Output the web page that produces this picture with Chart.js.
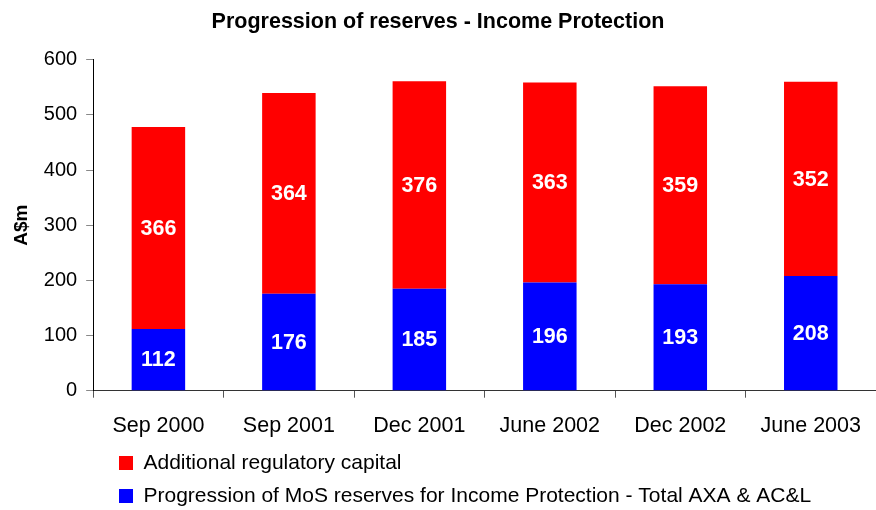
<!DOCTYPE html>
<html>
<head>
<meta charset="utf-8">
<title>Progression of reserves - Income Protection</title>
<script src="https://cdn.jsdelivr.net/npm/chart.js@4.4.1/dist/chart.umd.min.js"></script>
<style>
  html, body { margin: 0; padding: 0; background: #fff; }
  #reserves { display: block; }
</style>
</head>
<body>
<canvas id="reserves" width="876" height="510"></canvas>
<script>
const periods = ['Sep 2000', 'Sep 2001', 'Dec 2001', 'June 2002', 'Dec 2002', 'June 2003'];
const mosReserves = [112, 176, 185, 196, 193, 208];
const regulatoryCapital = [366, 364, 376, 363, 359, 352];

const FONT = '"Liberation Sans", Arial, sans-serif';

// white value labels centred in each stacked segment
const barValueLabels = {
  id: 'barValueLabels',
  afterDatasetsDraw(chart) {
    const { ctx } = chart;
    ctx.save();
    ctx.font = 'bold 21.5px ' + FONT;
    ctx.fillStyle = '#fff';
    ctx.textAlign = 'center';
    ctx.textBaseline = 'middle';
    chart.data.datasets.forEach((ds, i) => {
      chart.getDatasetMeta(i).data.forEach((bar, j) => {
        ctx.fillText(ds.data[j], bar.x, (bar.y + bar.base) / 2 + 1);
      });
    });
    ctx.restore();
  },
};

// move the legend in from the left edge and up under the axis labels
const legendIndent = {
  id: 'legendIndent',
  afterLayout(chart, args, opts) {
    if (!chart.legend) return;
    chart.legend.left += opts.offsetX;
    chart.legend.top += opts.offsetY;
  },
};

const chart = new Chart(document.getElementById('reserves').getContext('2d'), {
  type: 'bar',
  data: {
    labels: periods,
    datasets: [
      {
        label: 'Progression of MoS reserves for Income Protection - Total AXA & AC&L',
        data: mosReserves,
        backgroundColor: '#0000FF',
        borderWidth: 0,
      },
      {
        label: 'Additional regulatory capital',
        data: regulatoryCapital,
        backgroundColor: '#FF0000',
        borderWidth: 0,
      },
    ],
  },
  options: {
    responsive: false,
    devicePixelRatio: 1,
    animation: false,
    layout: { padding: { left: 0, right: 0, top: 0, bottom: -19.5 } },
    datasets: {
      bar: { categoryPercentage: 1, barPercentage: 0.41 },
    },
    scales: {
      x: {
        stacked: true,
        grid: { drawOnChartArea: false, drawTicks: true, tickLength: 7, color: '#555', offset: true },
        border: { display: true, color: '#333', width: 1 },
        ticks: { color: '#000', font: { family: FONT, size: 21.5 }, padding: 15, maxRotation: 0 },
      },
      y: {
        stacked: true,
        min: 0,
        max: 600,
        grid: { drawOnChartArea: false, drawTicks: true, tickLength: 7, color: '#888' },
        border: { display: true, color: '#000', width: 1 },
        ticks: { stepSize: 100, color: '#000', font: { family: FONT, size: 20 }, padding: 9 },
        title: {
          display: true,
          text: 'A$m',
          color: '#000',
          font: { family: FONT, size: 19, weight: 'bold' },
          padding: { top: 10, bottom: 2 },
        },
      },
    },
    plugins: {
      title: {
        display: true,
        text: 'Progression of reserves - Income Protection',
        color: '#000',
        font: { family: FONT, size: 21.5, weight: 'bold' },
        padding: { top: 9, bottom: 25 },
      },
      legend: {
        position: 'bottom',
        align: 'start',
        reverse: true,
        labels: {
          color: '#000',
          font: { family: FONT, size: 21 },
          boxWidth: 14,
          boxHeight: 14,
          padding: 12,
        },
      },
      legendIndent: { offsetX: 107, offsetY: -13 },
      tooltip: { enabled: false },
    },
  },
  plugins: [barValueLabels, legendIndent],
});
</script>
</body>
</html>
